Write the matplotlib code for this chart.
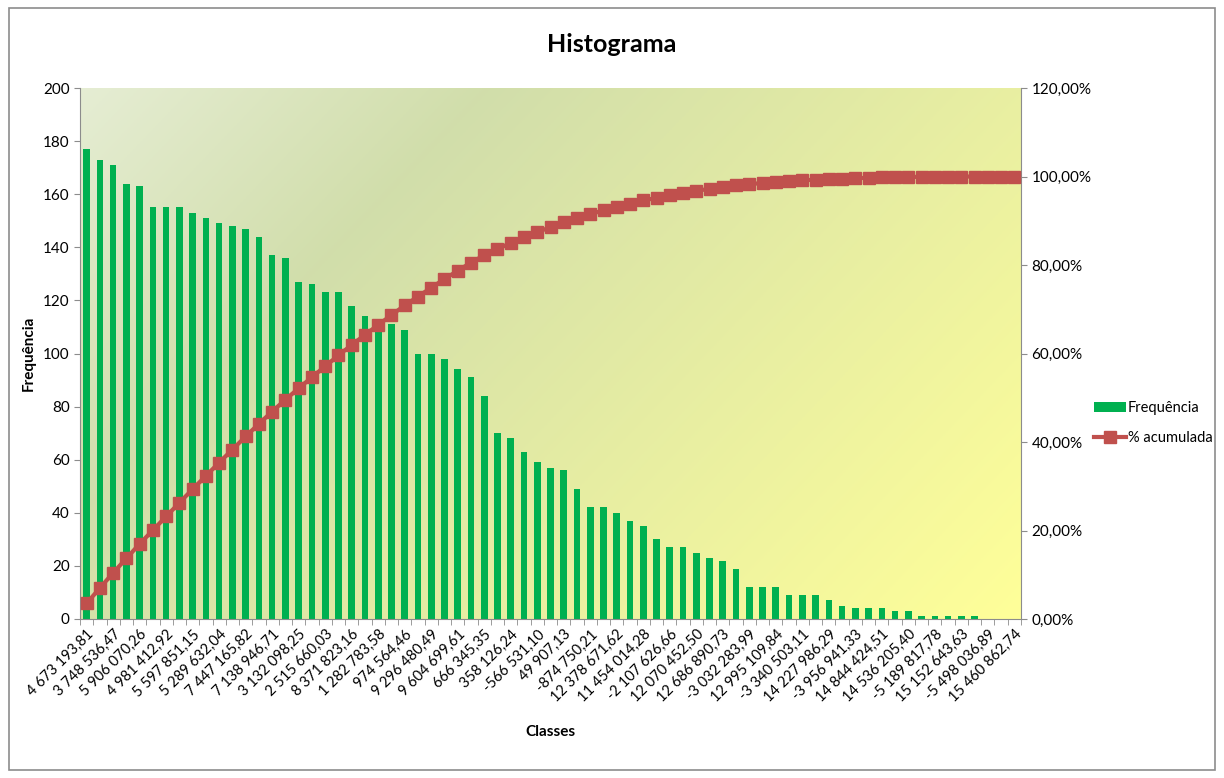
import numpy as np
import matplotlib
matplotlib.use("Agg")
import matplotlib.pyplot as plt
from matplotlib.patches import Rectangle
from matplotlib.ticker import FuncFormatter

plt.rcParams['font.family'] = ['Lato', 'DejaVu Sans']

# frequencies per class
freq = [177, 173, 171, 164, 163, 155, 155, 155, 153, 151,
        149, 148, 147, 144, 137, 136, 127, 126, 123, 123,
        118, 114, 112, 111, 109, 100, 100, 98, 94, 91,
        84, 70, 68, 63, 59, 57, 56, 49, 42, 42,
        40, 37, 35, 30, 27, 27, 25, 23, 22, 19,
        12, 12, 12, 9, 9, 9, 7, 5, 4, 4,
        4, 3, 3, 1, 1, 1, 1, 1, 0, 0, 0]

# labels shown on every other class
shown_labels = ["4 673 193,81", "3 748 536,47", "5 906 070,26", "4 981 412,92",
                "5 597 851,15", "5 289 632,04", "7 447 165,82", "7 138 946,71",
                "3 132 098,25", "2 515 660,03", "8 371 823,16", "1 282 783,58",
                "974 564,46", "9 296 480,49", "9 604 699,61", "666 345,35",
                "358 126,24", "-566 531,10", "49 907,13", "-874 750,21",
                "12 378 671,62", "11 454 014,28", "-2 107 626,66", "12 070 452,50",
                "12 686 890,73", "-3 032 283,99", "12 995 109,84", "-3 340 503,11",
                "14 227 986,29", "-3 956 941,33", "14 844 424,51", "14 536 205,40",
                "-5 189 817,78", "15 152 643,63", "-5 498 036,89", "15 460 862,74"]

# cumulative percentage from the frequencies
cum_pct = np.cumsum(freq) / np.sum(freq) * 100

n = len(freq)
x = np.arange(n)

fig = plt.figure(figsize=(12.24, 7.78), dpi=100)
fig.patch.set_facecolor("white")
fig.patches.append(Rectangle((0.007, 0.01), 0.986, 0.98, transform=fig.transFigure,
                             fill=False, edgecolor="#8c8c8c", linewidth=1.2))

ax = fig.add_axes([80/1224, 1-619/778, 941/1224, 531/778])
ax2 = ax.twinx()

# background gradient
gx, gy = np.meshgrid(np.linspace(0, 1, 300), np.linspace(1, 0, 200))
t = np.clip(0.65*gx + 0.35*(1-gy), 0, 1)
c0 = np.array([0.90, 0.93, 0.83])
c1 = np.array([0.82, 0.87, 0.67])
c2 = np.array([1.00, 1.00, 0.60])
img = np.zeros(t.shape + (3,))
for k in range(3):
    img[..., k] = np.interp(t, [0, 0.28, 1], [c0[k], c1[k], c2[k]])
ax.imshow(img, extent=[0, 1, 0, 1], transform=ax.transAxes, aspect="auto", zorder=0)

ax.bar(x, freq, width=0.5, color="#00b050", zorder=2, label="Frequência")
ax.set_xlim(-0.5, n - 0.5)
ax.set_ylim(0, 200)
ax.set_yticks(range(0, 201, 20))
ax.set_xticks(x)
ax.set_xticks(np.arange(n + 1) - 0.5, minor=True)
ax.set_xticklabels([shown_labels[i//2] if i % 2 == 0 else "" for i in x],
                   rotation=45, ha="right", rotation_mode="anchor", fontsize=10.5)
ax.tick_params(axis="x", which="major", length=0, pad=6)
ax.tick_params(axis="x", which="minor", length=4, color="#8c8c8c")
ax.tick_params(axis="y", length=4, color="#8c8c8c", labelsize=11)
ax.set_ylabel("Frequência", fontsize=11, fontweight="bold", labelpad=5)
ax.set_xlabel("Classes", fontsize=11, fontweight="bold", labelpad=14)

ax2.plot(x, cum_pct, color="#c0504d", linewidth=3, marker="s", markersize=8.5,
         zorder=3, label="% acumulada")
ax2.set_ylim(0, 120)
ax2.set_yticks(range(0, 121, 20))
ax2.yaxis.set_major_formatter(FuncFormatter(lambda v, p: ("%.2f%%" % v).replace(".", ",")))
ax2.tick_params(axis="y", length=4, color="#8c8c8c", labelsize=11)

for a in (ax, ax2):
    for s in a.spines.values():
        s.set_visible(False)
ax.spines["left"].set_visible(True)
ax.spines["bottom"].set_visible(True)
ax2.spines["right"].set_visible(True)
for s in (ax.spines["left"], ax.spines["bottom"], ax2.spines["right"]):
    s.set_color("#8c8c8c")

fig.text(0.5, 1 - 45/778, "Histograma", ha="center", va="center",
         fontsize=18, fontweight="bold")

h1, l1 = ax.get_legend_handles_labels()
h2, l2 = ax2.get_legend_handles_labels()
fig.legend(h1 + h2, l1 + l2, loc="center left", bbox_to_anchor=(1094/1224, 1 - 423/778),
           frameon=False, fontsize=10.5, handlelength=2.2, handletextpad=0.1,
           labelspacing=1.1, borderaxespad=0, borderpad=0)

fig.savefig("out.png", dpi=100)
